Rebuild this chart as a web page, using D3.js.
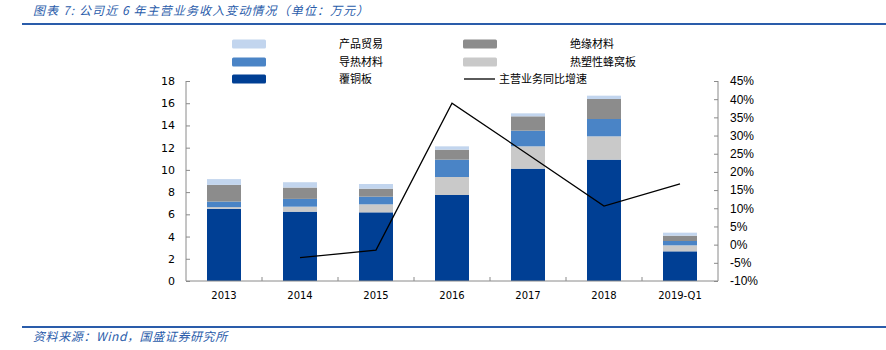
<!DOCTYPE html>
<html><head><meta charset="utf-8">
<script src="https://cdn.jsdelivr.net/npm/d3@7"></script>
<style>body{margin:0;background:#fff}svg{display:block}</style>
</head><body>
<svg id="c" width="886" height="350"></svg>
<script>
const categories = ["2013","2014","2015","2016","2017","2018","2019-Q1"];
const ccl = [6.5,6.24,6.18,7.74,10.11,10.92,2.67];        // 覆铜板
const honeycomb = [0.15,0.45,0.72,1.62,2.01,2.1,0.54];     // 热塑性蜂窝板
const thermal = [0.5,0.7,0.69,1.56,1.41,1.56,0.39];        // 导热材料
const insulation = [1.5,1.02,0.72,0.9,1.29,1.8,0.48];      // 绝缘材料
const trade = [0.52,0.48,0.42,0.3,0.27,0.3,0.27];          // 产品贸易
const growth = [null,-3.6,-1.5,38.9,24.8,10.6,16.7];       // 主营业务同比增速 %
const leftTicks = [0,2,4,6,8,10,12,14,16,18];
const rightTicks = [-10,-5,0,5,10,15,20,25,30,35,40,45];

const seriesNames = ["覆铜板","热塑性蜂窝板","导热材料","绝缘材料","产品贸易"];
const seriesVals = [ccl,honeycomb,thermal,insulation,trade];
const colors = ["#003F94","#C9C9C9","#4A84C6","#8C8C8C","#C2D5EE"];

(function(){
const svg = d3.select("#c");
const pL = 186, pR = 718, pT = 81, pB = 281;
const x = d3.scaleBand().domain(categories).range([pL,pR]).paddingInner(0).paddingOuter(0);
const y = d3.scaleLinear().domain([0,18]).range([pB,pT]);
const y2 = d3.scaleLinear().domain([-10,45]).range([pB,pT]);
const barW = 34;

// header
svg.append("text").attr("x",33).attr("y",15).attr("fill","#2A5CAA")
  .attr("font-family","'Noto Sans CJK SC'").attr("font-size",12).attr("font-style","italic")
  .attr("letter-spacing",1.1)
  .text("图表 7: 公司近 6 年主营业务收入变动情况（单位：万元）");
svg.append("line").attr("x1",22).attr("x2",886).attr("y1",24).attr("y2",24).attr("stroke","#2A5CAA").attr("stroke-width",2);
svg.append("line").attr("x1",22).attr("x2",886).attr("y1",327).attr("y2",327).attr("stroke","#2A5CAA").attr("stroke-width",2);
svg.append("text").attr("x",33).attr("y",341).attr("fill","#2A5CAA")
  .attr("font-family","'Noto Sans CJK SC'").attr("font-size",12).attr("font-style","italic")
  .attr("letter-spacing",0.6)
  .text("资料来源：Wind，国盛证券研究所");

// stacked data
const rows = categories.map((c,i)=>{const o={cat:c};seriesNames.forEach((n,k)=>o[n]=seriesVals[k][i]);return o;});
const stack = d3.stack().keys(seriesNames)(rows);
svg.append("g").selectAll("g").data(stack).join("g").attr("fill",(d,i)=>colors[i])
  .selectAll("rect").data(d=>d).join("rect")
  .attr("x",d=>x(d.data.cat)+x.bandwidth()/2-barW/2).attr("width",barW)
  .attr("y",d=>y(d[1])).attr("height",d=>y(d[0])-y(d[1]));

// axes
const axisColor = "#8a8a8a";
const gl = svg.append("g").attr("transform",`translate(${pL},0)`)
  .call(d3.axisLeft(y).tickValues(leftTicks).tickSize(-4).tickPadding(11).tickFormat(d3.format("d")));
const gr = svg.append("g").attr("transform",`translate(${pR},0)`)
  .call(d3.axisRight(y2).tickValues(rightTicks).tickSize(-4).tickPadding(12).tickFormat(d=>d+"%"));
const gb = svg.append("g").attr("transform",`translate(0,${pB})`)
  .call(d3.axisBottom(x).tickSize(0).tickPadding(11));
svg.append("g").selectAll("line").data(categories.slice(1)).join("line")
  .attr("x1",d=>x(d)).attr("x2",d=>x(d)).attr("y1",pB).attr("y2",pB-4).attr("stroke",axisColor);
[gl,gr,gb].forEach(g=>{g.selectAll("path.domain").attr("stroke",axisColor);g.selectAll(".tick line").attr("stroke",axisColor);
  g.selectAll("text").attr("fill","#000");});
gl.selectAll("text").attr("font-family","'DejaVu Sans'").attr("font-size",11);
gr.selectAll("text").attr("font-family","'Liberation Sans'").attr("font-size",12);
gb.selectAll("text").attr("font-family","'DejaVu Sans'").attr("font-size",10);
gl.select("path.domain").attr("d",`M0,${pT}V${pB}`);
gr.select("path.domain").attr("d",`M0,${pT}V${pB}`);
gb.select("path.domain").attr("d",`M${pL},0H${pR}`);

// line
const pts = categories.map((c,i)=>({c,v:growth[i]})).filter(d=>d.v!==null);
svg.append("path").datum(pts).attr("fill","none").attr("stroke","#000").attr("stroke-width",1.3)
  .attr("d",d3.line().x(d=>x(d.c)+x.bandwidth()/2).y(d=>y2(d.v)));

// legend
const leg = [
  {name:"产品贸易",type:"rect",color:colors[4],sx:232,tx:339,y:44},
  {name:"绝缘材料",type:"rect",color:colors[3],sx:463,tx:570,y:44},
  {name:"导热材料",type:"rect",color:colors[2],sx:232,tx:339,y:62},
  {name:"热塑性蜂窝板",type:"rect",color:colors[1],sx:463,tx:570,y:62},
  {name:"覆铜板",type:"rect",color:colors[0],sx:232,tx:339,y:79},
  {name:"主营业务同比增速",type:"line",color:"#000",sx:464,tx:499,y:79}
];
const lg = svg.append("g");
leg.forEach(l=>{
  if(l.type==="rect") lg.append("rect").attr("x",l.sx).attr("y",l.y-4.5).attr("width",34).attr("height",9).attr("rx",1.5).attr("fill",l.color);
  else lg.append("line").attr("x1",l.sx).attr("x2",l.sx+31).attr("y1",l.y).attr("y2",l.y).attr("stroke",l.color).attr("stroke-width",1.3);
  lg.append("text").attr("x",l.tx).attr("y",l.y+4).attr("font-family","'Noto Sans CJK SC'").attr("font-size",11).attr("fill","#000").text(l.name);
});
})();
</script>
</body></html>
